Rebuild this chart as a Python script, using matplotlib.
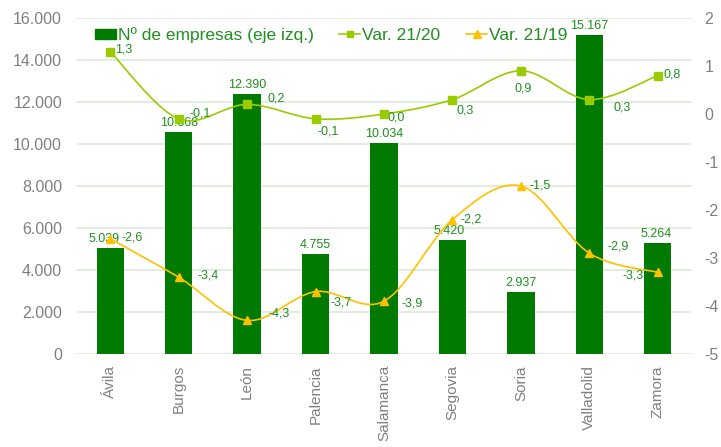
import numpy as np
import matplotlib
matplotlib.use("Agg")
import matplotlib.pyplot as plt
from matplotlib.path import Path
from matplotlib.patches import PathPatch
from matplotlib.lines import Line2D
from matplotlib.patches import Patch
from matplotlib.ticker import FuncFormatter

plt.rcParams['font.family'] = ['Liberation Sans', 'DejaVu Sans']
plt.rcParams['axes.unicode_minus'] = False

# datos
provincias = ['Ávila', 'Burgos', 'León', 'Palencia', 'Salamanca',
              'Segovia', 'Soria', 'Valladolid', 'Zamora']
empresas = [5039, 10568, 12390, 4755, 10034, 5420, 2937, 15167, 5264]
var_21_20 = [1.3, -0.1, 0.2, -0.1, 0.0, 0.3, 0.9, 0.3, 0.8]
var_21_19 = [-2.6, -3.4, -4.3, -3.7, -3.9, -2.2, -1.5, -2.9, -3.3]

# desplazamientos de las etiquetas (pixeles) y alineacion
off_barras = [-6, 0, 0, 0, 0, -3, 0, 0, -2]
off_20 = [(5, 2, 'left'), (11, 5, 'left'), (20, 6, 'left'), (13, -13, 'center'),
          (4, -3, 'left'), (13, -11, 'center'), (2, -18, 'center'),
          (33, -8, 'center'), (6, 1, 'left')]
off_19 = [(11, 1, 'left'), (19, 2, 'left'), (21, 7, 'left'), (15, -11, 'left'),
          (18, -2, 'left'), (8, 0, 'left'), (9, 0, 'left'), (18, 7, 'left'),
          (-14, -3, 'right')]

VERDE = '#007a00'
LIMA = '#99cc00'
AMBAR = '#ffc000'
TXT = '#1f8f1f'
GRIS = '#808080'
REJILLA = '#dcebd9'


def fmt_miles(v, pos=None):
    return f'{int(round(v)):,}'.replace(',', '.')


def fmt_coma(v):
    s = f'{v:.1f}'.replace('.', ',')
    return '0,0' if s == '-0,0' else s


def curva_suave(ax, xs, ys, color):
    # curva tipo Catmull-Rom dibujada con beziers cubicos
    pts = np.column_stack([xs, ys]).astype(float)
    n = len(pts)
    verts = [pts[0]]
    codes = [Path.MOVETO]
    for i in range(n - 1):
        p0 = pts[i - 1] if i > 0 else pts[i]
        p1 = pts[i]
        p2 = pts[i + 1]
        p3 = pts[i + 2] if i + 2 < n else pts[i + 1]
        c1 = p1 + (p2 - p0) / 6.0
        c2 = p2 - (p3 - p1) / 6.0
        verts += [c1, c2, p2]
        codes += [Path.CURVE4] * 3
    patch = PathPatch(Path(verts, codes), facecolor='none', edgecolor=color,
                      lw=1.2, zorder=3)
    ax.add_patch(patch)


fig = plt.figure(figsize=(7.21, 4.47), dpi=100)
ax1 = fig.add_axes([76 / 721, 1 - 354 / 447, (692 - 76) / 721, (354 - 18) / 447])
ax2 = ax1.twinx()

x = np.arange(len(provincias))

ax1.bar(x, empresas, width=0.4, color=VERDE, zorder=2)
ax1.set_ylim(0, 16000)
ax1.set_xlim(-0.5, len(provincias) - 0.5)
ax1.set_yticks(np.arange(0, 16001, 2000))
ax1.yaxis.set_major_formatter(FuncFormatter(fmt_miles))
ax1.grid(axis='y', color=REJILLA, lw=1.2, zorder=0)
ax1.set_axisbelow(True)
ax1.set_xticks(x)
ax1.set_xticklabels(provincias, rotation=90)

for xi, v, dx in zip(x, empresas, off_barras):
    ax1.annotate(fmt_miles(v), (xi, v), xytext=(dx, 3), textcoords='offset pixels',
                 ha='center', va='bottom', color=TXT, fontsize=9)

ax2.set_ylim(-5, 2)
ax2.set_yticks(np.arange(-5, 3, 1))

curva_suave(ax2, x, var_21_20, LIMA)
curva_suave(ax2, x, var_21_19, AMBAR)
ax2.plot(x, var_21_20, ls='none', marker='s', ms=5.5, color=LIMA, zorder=4)
ax2.plot(x, var_21_19, ls='none', marker='^', ms=6, color=AMBAR, zorder=4)

for xi, v, (dx, dy, ha) in zip(x, var_21_20, off_20):
    ax2.annotate(fmt_coma(v), (xi, v), xytext=(dx, dy), textcoords='offset pixels',
                 ha=ha, va='center', color=TXT, fontsize=9)
for xi, v, (dx, dy, ha) in zip(x, var_21_19, off_19):
    ax2.annotate(fmt_coma(v), (xi, v), xytext=(dx, dy), textcoords='offset pixels',
                 ha=ha, va='center', color=TXT, fontsize=9)

for ax in (ax1, ax2):
    for s in ax.spines.values():
        s.set_visible(False)
    ax.tick_params(length=0, colors=GRIS, labelsize=11)
ax1.tick_params(axis='y', labelsize=11.5, pad=10)
ax2.tick_params(axis='y', labelsize=11.5, pad=9)
ax1.tick_params(axis='x', pad=8)

handles = [Patch(color=VERDE),
           Line2D([], [], color=LIMA, marker='s', ms=5, lw=1.2),
           Line2D([], [], color=AMBAR, marker='^', ms=5.5, lw=1.2)]
etiquetas = ['Nº de empresas (eje izq.)', 'Var. 21/20', 'Var. 21/19']
leg = fig.legend(handles, etiquetas, loc='center left', ncol=3,
                 bbox_to_anchor=(95 / 721, 1 - 35 / 447), frameon=False,
                 fontsize=12.5, handlelength=1.2, handleheight=0.5,
                 handletextpad=0.1, columnspacing=1.5, borderpad=0,
                 borderaxespad=0)
for t in leg.get_texts():
    t.set_color(TXT)

fig.savefig('out.png', dpi=100)
